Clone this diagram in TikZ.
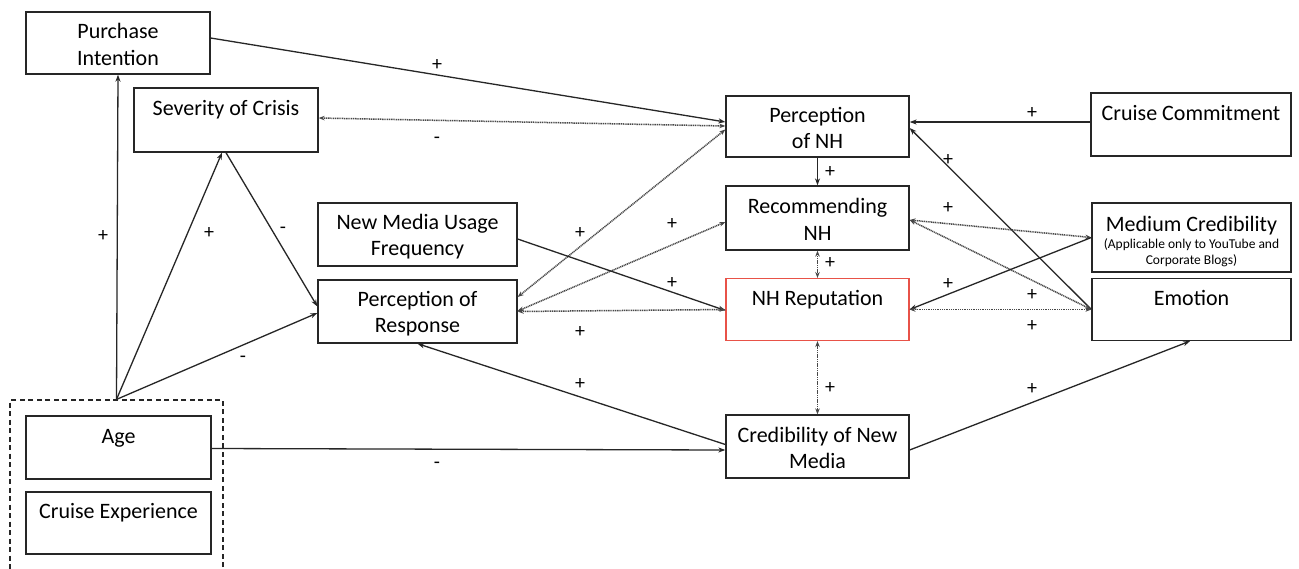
\documentclass[tikz,border=0pt]{standalone}
\usepackage{fontspec}
\setmainfont{Carlito}
\usetikzlibrary{arrows.meta,calc}
\definecolor{nhred}{RGB}{232,82,72}
\newcommand\toprl{\rule{0pt}{20pt}}
\newcommand\botrl{\rule[-2pt]{0pt}{2pt}}
\begin{document}
\begin{tikzpicture}[x=1pt,y=-1pt,
  box/.style={draw=black!85,line width=1.3pt,align=center,inner sep=0pt,
    font=\fontsize{22}{26.5}\selectfont,minimum width=184pt,minimum height=62pt},
  sol/.style={line width=1.3pt,draw=black!85,-{Stealth[length=7pt,width=5pt]}},
  dot/.style={line width=1.5pt,draw=black!72,dash pattern=on 1.1pt off 0.7pt,
    {Stealth[length=6pt,width=4.5pt]}-{Stealth[length=6pt,width=4.5pt]}},
  sgn/.style={font=\fontsize{20}{22}\selectfont,inner sep=0pt},
  grpbox/.style={draw=black!85,line width=1.2pt,dash pattern=on 5pt off 3.5pt}]
\useasboundingbox (0,0) rectangle (1299,568);
\fill[white] (0,0) rectangle (1299,568);

% boxes
\node[box] (pi) at (118,43) {\toprl Purchase\\Intention\botrl};
\node[box,minimum height=64pt] (sc) at (226,120) {\toprl Severity of Crisis\\\botrl};
\node[box,minimum width=183pt,minimum height=61pt] (pnh) at (817.5,126.5) {\toprl Perception\\of NH\botrl};
\node[box,minimum width=200pt,minimum height=63pt] (cc) at (1191,124.5) {\toprl Cruise Commitment\\\botrl};
\node[box,minimum width=199pt,minimum height=63pt] (nmu) at (417.5,234.5) {\toprl New Media Usage\\Frequency\botrl};
\node[box,minimum width=183pt,minimum height=64pt] (rec) at (817.5,218) {\toprl Recommending\\NH\botrl};
\node[box,minimum width=199pt,minimum height=69pt] (mc) at (1191.5,237.5) {};
\node[anchor=base,inner sep=0pt,font=\fontsize{22}{26}\selectfont] (mct) at (1191.5,231.5) {Medium Credibility};
\node[anchor=base,inner sep=0pt,font=\fontsize{13.5}{16}\selectfont] (mcs1) at (1191.5,248) {(Applicable only to YouTube and};
\node[anchor=base,inner sep=0pt,font=\fontsize{13.5}{16}\selectfont] (mcs2) at (1191.5,264) {Corporate Blogs)};
\node[box,minimum width=199pt,minimum height=63pt] (por) at (417.5,311.5) {\toprl Perception of\\Response\botrl};
\node[box,draw=nhred,line width=1.1pt,minimum width=183pt] (rep) at (817.5,309.5) {\toprl NH Reputation\\\botrl};
\node[box,minimum width=199pt] (emo) at (1191.5,309.5) {\toprl Emotion\\\botrl};
\node[box,minimum width=183pt,minimum height=63pt] (cnm) at (817.5,446.5) {\toprl Credibility of New\\Media\botrl};
\node[box,minimum width=185pt,minimum height=63pt] (age) at (118.5,447.5) {\toprl Age\\\botrl};
\node[box,minimum width=185pt,minimum height=62pt] (ce) at (118.5,523) {\toprl Cruise Experience\\\botrl};
\node[grpbox,minimum width=213pt,minimum height=175pt,inner sep=0pt] (grp) at (116.5,487.5) {};

% connectors
\draw[sol] ([yshift=5pt]pi.east) -- ([yshift=4.5pt]pnh.west);
\draw[dot] ([yshift=2pt]sc.east) -- ([yshift=0.5pt]pnh.west);
\draw[sol] (grp.north) -- (pi.south);
\draw[sol] (grp.north) -- ([xshift=-4pt]sc.south);
\draw[sol] (sc.south) -- ([yshift=5pt]por.west);
\draw[sol] (grp.north) -- ([yshift=-1.5pt]por.west);
\draw[sol] ([yshift=-1pt]age.east) -- ([yshift=-3.5pt]cnm.west);
\draw[sol] ([yshift=2pt]cnm.west) -- (por.south);
\draw[dot] ([yshift=14.5pt]por.east) -- ([yshift=-3pt]pnh.west);
\draw[dot] ([yshift=0.5pt]por.east) -- ([yshift=-4pt]rec.west);
\draw[sol] ([yshift=-4.5pt]nmu.east) -- ([yshift=-1pt]rep.west);
\draw[dot] (por.east) -- (rep.west);
\draw[sol] (pnh.south) -- (rec.north);
\draw[dot] (rec.south) -- (rep.north);
\draw[dot] (rep.south) -- (cnm.north);
\draw[sol] ([yshift=2.5pt]cc.west) -- ([yshift=4.5pt]pnh.east);
\draw[sol] (emo.west) -- ([yshift=-1.5pt]pnh.east);
\draw[dot] ([yshift=-2pt]rec.east) -- (mc.west);
\draw[dot] ([yshift=-2pt]rec.east) -- (emo.west);
\draw[sol] (mc.west) -- (rep.east);
\draw[dot] (rep.east) -- (emo.west);
\draw[sol] ([yshift=-3.5pt]cnm.east) -- ([xshift=-1.5pt]emo.south);

% signs
\node[sgn] (s1) at (437,65) {+};
\node[sgn] (s2) at (437,140) {-};
\node[sgn] (s3) at (103,236) {+};
\node[sgn] (s4) at (209,233) {+};
\node[sgn] (s5) at (283,230) {-};
\node[sgn] (s6) at (243,359) {-};
\node[sgn] (s7) at (437,465) {-};
\node[sgn] (s8) at (580,384) {+};
\node[sgn] (s9) at (580,233) {+};
\node[sgn] (s10) at (672,224) {+};
\node[sgn] (s11) at (672,283) {+};
\node[sgn] (s12) at (580,332) {+};
\node[sgn] (s13) at (830,172) {+};
\node[sgn] (s14) at (830,263) {+};
\node[sgn] (s15) at (830,388) {+};
\node[sgn] (s16) at (1032,113) {+};
\node[sgn] (s17) at (948,160) {+};
\node[sgn] (s18) at (948,208) {+};
\node[sgn] (s19) at (1032,295) {+};
\node[sgn] (s20) at (948,284) {+};
\node[sgn] (s21) at (1032,326) {+};
\node[sgn] (s22) at (1032,389) {+};
\end{tikzpicture}
\end{document}
